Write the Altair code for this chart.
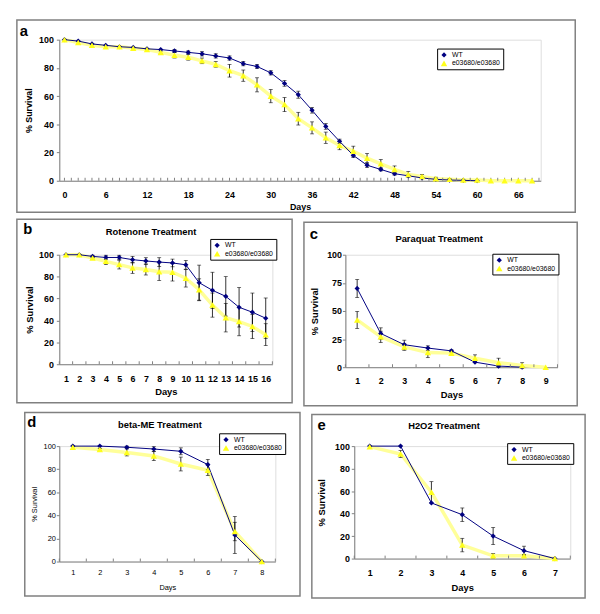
import altair as alt
import pandas as pd

FONT = "Liberation Sans"
WT_COLOR = "#000080"
MUT_LINE = "#FFFF99"
MUT_POINT = "#FFFF1A"
GRAY = "#808080"
SERIES = ["WT", "e03680/e03680"]

# ---------------- data ----------------
# a: lifespan
a_days_wt = list(range(0, 61, 2))
a_wt = [100, 99, 97, 96, 95, 94.5, 93.5, 93, 92, 91, 90, 88.5, 87, 83, 81, 76.5,
        69, 61, 50, 38.5, 28, 18, 11, 8, 5, 3.5, 2, 1, 0.5, 0.3, 0]
a_wt_err = [0, 0, 0, 0, 0, 0, 0, 0, 1, 1, 1.5, 1.5, 1.5, 1.5, 1.5, 1.5,
            2, 2.5, 2, 2, 1.5, 1.5, 1.5, 1, 1, 0.5, 0, 0, 0, 0, 0]
a_days_mut = list(range(0, 69, 2))
a_mut = [100, 98, 96, 95, 95, 94, 93, 91, 89, 87.5, 85, 82.5, 78, 74.5, 68, 60,
         54, 44, 37.5, 30.5, 25, 21, 16, 12, 8, 4.5, 3, 1.5, 1, 0.5, 0.5, 0, 0, 0, 0]
a_mut_err = [0, 0, 0, 0, 0, 0, 0, 1, 2, 2, 2, 2, 4.5, 4, 5, 4.7,
             5, 4.5, 4.3, 4, 3, 3.5, 3.3, 3, 2.5, 2, 1.5, 1, 0.5, 0, 0, 0, 0, 0, 0]

# b: Rotenone
b_days = list(range(1, 17))
b_wt = [100, 100, 98.5, 97.5, 97.5, 95.5, 94.3, 93.3, 92.5, 90.8, 74.5, 67.5, 62, 52, 47.5, 42]
b_wt_err = [0, 0, 1, 2, 2, 3, 3, 4, 3.5, 4, 16, 16.5, 18, 18, 17.5, 18.5]
b_mut = [100, 100, 97, 94, 91, 88, 86.5, 84.5, 84, 78.5, 68, 54, 42.5, 39, 34.5, 27]
b_mut_err = [0, 0, 1, 3, 4, 5, 5, 8, 8, 8, 10, 11, 13, 13, 11, 10]

# c: Paraquat
c_days_wt = list(range(1, 9))
c_wt = [70, 30, 20, 17, 14.5, 4.5, 1, 0]
c_wt_err = [8, 5, 4, 2, 1, 0, 0, 0]
c_days_mut = list(range(1, 10))
c_mut = [42, 27, 18, 13, 12.5, 8, 4, 1.5, 0]
c_mut_err = [7.5, 5, 3, 4.5, 2, 3, 4, 2.5, 0]

# d: beta-ME
d_days = list(range(1, 9))
d_wt = [100, 100, 99, 97.5, 95.5, 84, 23, 0]
d_wt_err = [0, 0, 1, 2, 3, 4.5, 16, 0]
d_mut = [99, 97, 94.5, 91.5, 84.5, 79, 26, 0]
d_mut_err = [0, 1, 3, 4, 6, 4.5, 8, 0]

# e: H2O2
e_days = list(range(1, 8))
e_wt = [100, 100, 49.5, 39, 20, 7, 0]
e_wt_err = [0, 0, 0, 6, 7.6, 4, 0]
e_mut = [99.5, 93, 59, 12, 2.5, 2.5, 0]
e_mut_err = [0, 3, 9.4, 6, 2, 1, 0]


def long_df(dw, w, we, dm, m, me):
    rows = []
    for d, v, e in zip(dw, w, we):
        rows.append({"day": d, "value": v, "series": SERIES[0], "lo": v - e, "hi": v + e, "err": e})
    for d, v, e in zip(dm, m, me):
        rows.append({"day": d, "value": v, "series": SERIES[1], "lo": v - e, "hi": v + e, "err": e})
    return pd.DataFrame(rows)


def panel(letter, title, df, W, H, frame, xdom, xvals, xtick_pos, yvals, bold,
          lab_size, title_size, ytitle_x, xlab_pad, xtitle_y, ylab_pad, legend_xy,
          title_xy, letter_xy, xtitle_x=None):
    L, R, T, B = frame
    weight = "bold" if bold else "normal"

    def X(field):
        return alt.X(field, type="quantitative",
                     scale=alt.Scale(domain=xdom, nice=False, zero=False),
                     axis=alt.Axis(values=xvals, title="Days", ticks=False, tickSize=0,
                                   grid=False, domainColor=GRAY, labelFont=FONT,
                                   labelFontSize=lab_size, labelFontWeight=weight,
                                   labelColor="black", labelPadding=xlab_pad,
                                   labelBaseline="middle", labelFlush=False,
                                   labelOverlap=False, titleFont=FONT,
                                   titleFontSize=title_size, titleFontWeight=weight,
                                   titleColor="black",
                                   titleX=(W / 2 if xtitle_x is None else xtitle_x),
                                   titleY=xtitle_y, titleBaseline="middle",
                                   titleAlign="center"))

    def Y(field):
        return alt.Y(field, type="quantitative",
                     scale=alt.Scale(domain=[0, 100], nice=False),
                     axis=alt.Axis(values=yvals, title="% Survival", grid=False,
                                   tickSize=3, tickColor=GRAY, domainColor=GRAY,
                                   labelFont=FONT, labelFontSize=lab_size,
                                   labelFontWeight=weight, labelColor="black",
                                   labelPadding=ylab_pad, titleFont=FONT,
                                   titleFontSize=title_size, titleFontWeight=weight,
                                   titleColor="black", titleX=ytitle_x, titleY=H / 2,
                                   titleAngle=270, titleBaseline="middle",
                                   titleAlign="center"))

    one = pd.DataFrame({"k": [0]})
    frame_rect = alt.Chart(one).mark_rect(fillOpacity=0, stroke=GRAY, strokeWidth=1.5).encode(
        x=alt.value(-L), x2=alt.value(W + R), y=alt.value(-T), y2=alt.value(H + B))

    base = alt.Chart(df)
    mut_line = base.transform_filter(alt.datum.series == SERIES[1]).mark_line(
        color=MUT_LINE, strokeWidth=3.5).encode(x=X("day"), y=Y("value"))
    wt_line = base.transform_filter(alt.datum.series == SERIES[0]).mark_line(
        color=WT_COLOR, strokeWidth=1).encode(x=X("day"), y=Y("value"))
    err = alt.Chart(df[df["err"] > 0]).mark_errorbar(
        ticks={"size": 4}, color="black", thickness=0.8).encode(
        x=X("day"), y=Y("lo"), y2="hi")
    ticks_df = pd.DataFrame({"pos": xtick_pos})
    xticks = alt.Chart(ticks_df).mark_rule(color=GRAY, strokeWidth=1).encode(
        x=X("pos"), y=alt.value(H), y2=alt.value(H - 3))
    leg = alt.Legend(title=None, orient="none", legendX=legend_xy[0], legendY=legend_xy[1],
                     direction="vertical", labelFont=FONT, labelFontSize=7,
                     labelColor="black", strokeColor="black", fillColor="white",
                     padding=3, rowPadding=1, symbolSize=30, labelOffset=4,
                     cornerRadius=0)
    pts = base.mark_point(filled=True, opacity=1).encode(
        x=X("day"), y=Y("value"),
        color=alt.Color("series:N", scale=alt.Scale(domain=SERIES, range=[WT_COLOR, MUT_POINT]), legend=leg),
        shape=alt.Shape("series:N", scale=alt.Scale(domain=SERIES, range=["diamond", "triangle-up"]), legend=leg),
        size=alt.Size("series:N", scale=alt.Scale(domain=SERIES, range=[28, 42]), legend=None))
    layers = [frame_rect, mut_line, wt_line, xticks, err, pts]
    if title:
        layers.append(alt.Chart(one).mark_text(text=title, font=FONT, fontSize=9.5,
                                               fontWeight="bold", align="center",
                                               baseline="middle", color="black").encode(
            x=alt.value(title_xy[0]), y=alt.value(title_xy[1])))
    layers.append(alt.Chart(one).mark_text(text=letter, font=FONT, fontSize=15,
                                           fontWeight="bold", align="center",
                                           baseline="middle", color="black").encode(
        x=alt.value(letter_xy[0]), y=alt.value(letter_xy[1])))
    return alt.layer(*layers).properties(width=W, height=H).resolve_scale(
        color="shared", shape="shared")


pa = panel("a", None, long_df(a_days_wt, a_wt, a_wt_err, a_days_mut, a_mut, a_mut_err),
           488, 143, (43, 35, 20, 32), [-0.75, 69.25], list(range(0, 67, 6)),
           list(range(0, 70)), [0, 20, 40, 60, 80, 100], True, 9, 9, -31, 14, 26, 3,
           (383, 9), None, (-36, -9))
pb = panel("b", "Rotenone Treatment", long_df(b_days, b_wt, b_wt_err, b_days, b_mut, b_mut_err),
           216, 111, (43, 20, 36, 39), [0.5, 16.5], b_days,
           [k + 0.5 for k in range(0, 17)], [0, 20, 40, 60, 80, 100], True, 9, 9.5, -30, 14, 28, 3,
           (153, -16), (93, -23), (-32, -26))
pc = panel("c", "Paraquat Treatment", long_df(c_days_wt, c_wt, c_wt_err, c_days_mut, c_mut, c_mut_err),
           215, 114, (42, 20, 33, 39), [0.5, 9.5], list(range(1, 10)),
           [k + 0.5 for k in range(0, 10)], [0, 25, 50, 75, 100], True, 9, 9.5, -31, 14, 28, 1,
           (149, -1), (95, -16), (-32, -21))
pd_ = panel("d", "beta-ME Treatment", long_df(d_days, d_wt, d_wt_err, d_days, d_mut, d_mut_err),
            219, 117, (35, 25, 34, 35), [0.5, 8.5], d_days,
            [k + 0.5 for k in range(0, 9)], [0, 20, 40, 60, 80, 100], False, 7.5, 7.5, -25, 11, 26, 1,
            (162, -13), (102, -21), (-28, -24))
pe = panel("e", "H2O2 Treatment", long_df(e_days, e_wt, e_wt_err, e_days, e_mut, e_mut_err),
           219, 114, (43, 15, 32, 40), [0.5, 7.5], e_days,
           [k + 0.5 for k in range(0, 8)], [0, 20, 40, 60, 80, 100], True, 9, 9.5, -33, 14, 29, 2,
           (155, -3), (91, -20), (-33, -21))

row1 = alt.hconcat(pb, pc, spacing=8).resolve_scale(
    x="independent", y="independent", color="independent", shape="independent", size="independent"
).resolve_legend(color="independent", shape="independent")
row2 = alt.hconcat(pd_, pe, spacing=8).resolve_scale(
    x="independent", y="independent", color="independent", shape="independent", size="independent"
).resolve_legend(color="independent", shape="independent")

chart = alt.vconcat(pa, row1, row2, spacing=3).resolve_scale(
    x="independent", y="independent", color="independent", shape="independent", size="independent"
).resolve_legend(color="independent", shape="independent").properties(
    padding={"left": 7, "top": 6, "right": 5, "bottom": 5}
).configure_view(stroke=None).configure(background="white")

chart.save("out.html", embed_options={"renderer": "svg", "actions": False})
